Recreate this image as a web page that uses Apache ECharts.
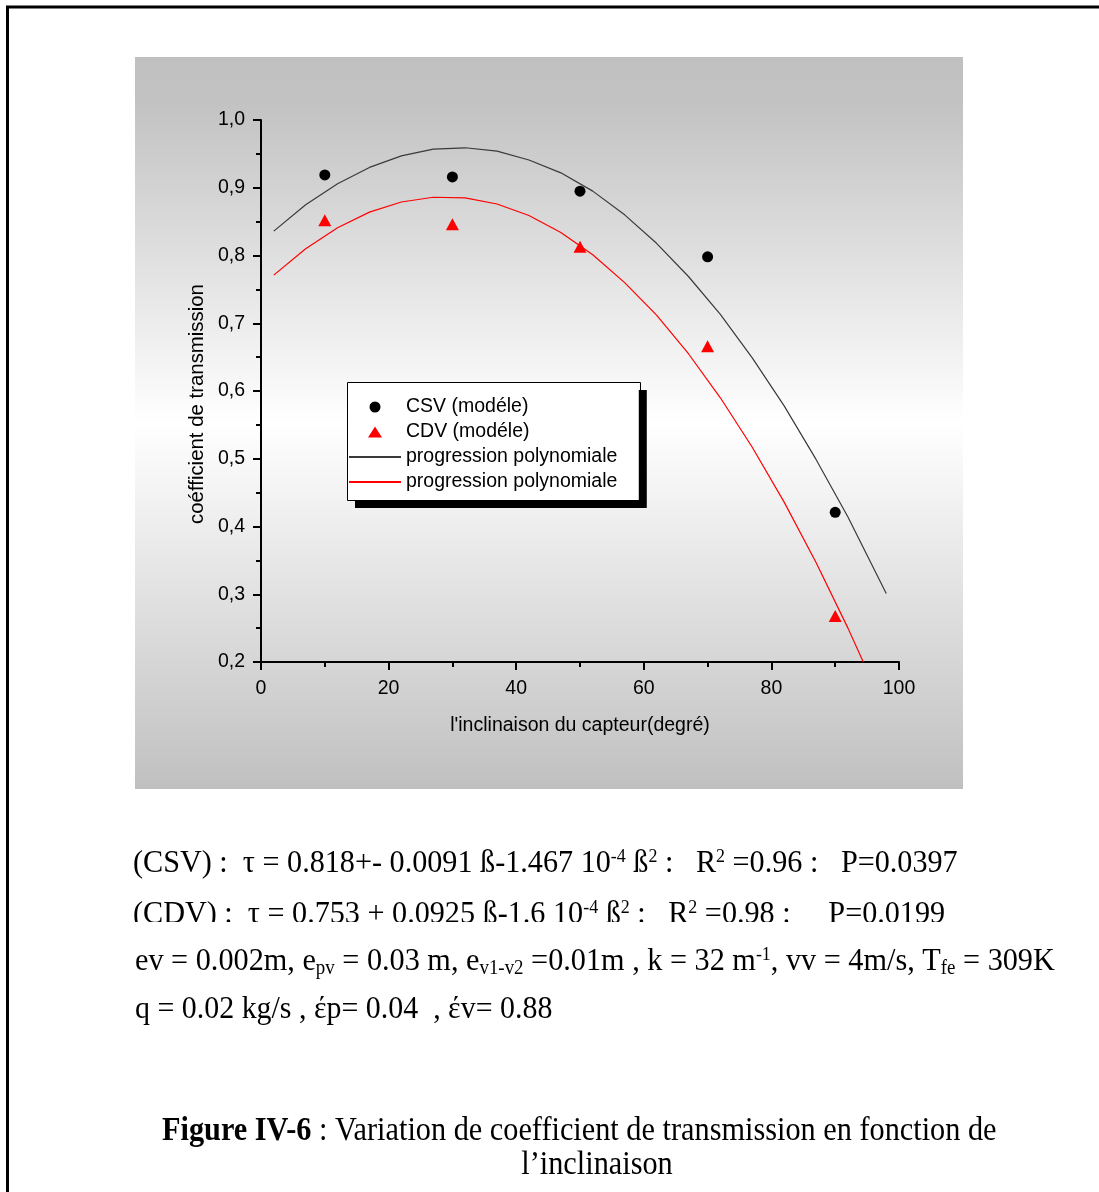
<!DOCTYPE html>
<html><head><meta charset="utf-8">
<script src="https://cdn.jsdelivr.net/npm/echarts@6/dist/echarts.min.js"></script>
<style>html,body{margin:0;padding:0;background:#fff}#c{width:1099px;height:1192px}</style>
</head><body><div id="c"></div>
<script>
// ---- data ----
const angles = [10, 30, 50, 70, 90];
const csvValues = [0.919, 0.916, 0.895, 0.798, 0.421];
const cdvValues = [0.852, 0.846, 0.813, 0.666, 0.268];
const csvFitX = [2, 7, 12, 17, 22, 27, 32, 37, 42, 47, 52, 57, 62, 67, 72, 77, 82, 87, 92, 98];
const csvFitY = [0.836, 0.875, 0.906, 0.930, 0.947, 0.957, 0.959, 0.954, 0.941, 0.922, 0.895, 0.860, 0.818, 0.769, 0.713, 0.649, 0.578, 0.499, 0.414, 0.301];
const cdvFitX = [2, 7, 12, 17, 22, 27, 32, 37, 42, 47, 52, 57, 62, 67, 72, 77, 82, 87, 92, 94.4];
const cdvFitY = [0.771, 0.810, 0.841, 0.864, 0.879, 0.886, 0.885, 0.876, 0.859, 0.834, 0.801, 0.760, 0.712, 0.655, 0.590, 0.517, 0.436, 0.347, 0.250, 0.200];
const seriesNames = ['CSV (modéle)', 'CDV (modéle)', 'progression polynomiale', 'progression polynomiale '];
const xTitle = "l'inclinaison du capteur(degré)";
const yTitle = 'coéfficient de transmission';
const xRange = [0, 100, 20];
const yRange = [0.2, 1.0, 0.1];

const sans = "'Liberation Sans', Arial, sans-serif";
const serif = "'Liberation Serif', 'Times New Roman', serif";
const pairs = (xs, ys) => xs.map((x, i) => [x, ys[i]]);

const chart = echarts.init(document.getElementById('c'), null, {renderer: 'canvas'});

function rich(base) {
  return {
    b: {fontSize: base, fontFamily: serif, verticalAlign: 'top', color: '#000'},
    sup: {fontSize: Math.round(base * 0.6), fontFamily: serif, verticalAlign: 'top', color: '#000'},
    sub: {fontSize: Math.round(base * 0.63), fontFamily: serif, verticalAlign: 'top', padding: [Math.round(base * 0.4), 0, 0, 0], color: '#000'},
    bold: {fontSize: base, fontFamily: serif, fontWeight: 'bold', verticalAlign: 'top', color: '#000'}
  };
}
function txt(x, y, text, size, sx, align) {
  return {
    type: 'text', x: x, y: y, z: 50, scaleX: sx, originX: 0, originY: 0,
    style: {text: text, x: 0, y: 0, fill: '#000', font: size + 'px ' + serif, verticalAlign: 'top', align: align || 'left', rich: rich(size)}
  };
}
// legend icons: a triangle inside a 52x11 box (tiny corner marks fix the box)
const triIcon = 'path://M0,0L0.01,0L0,0.01Z M52,11L51.99,11L52,10.99Z M19,11L26,0L33,11Z';

const option = {
  animation: false,
  backgroundColor: '#fff',
  grid: {left: 261, right: 200, top: 120, bottom: 530, containLabel: false},
  xAxis: {
    type: 'value', min: xRange[0], max: xRange[1], interval: xRange[2],
    name: xTitle, nameLocation: 'middle', nameGap: 54,
    nameTextStyle: {fontFamily: sans, fontSize: 19.5, color: '#000'},
    axisLine: {onZero: false, lineStyle: {color: '#000', width: 2}},
    axisTick: {inside: false, length: 8, lineStyle: {color: '#000', width: 2}},
    minorTick: {show: true, splitNumber: 2, length: 5, lineStyle: {color: '#000', width: 2}},
    axisLabel: {fontFamily: sans, fontSize: 19.5, color: '#000', margin: 17},
    splitLine: {show: false}
  },
  yAxis: {
    type: 'value', min: yRange[0], max: yRange[1], interval: yRange[2],
    name: yTitle, nameLocation: 'middle', nameGap: 53, nameRotate: 90,
    nameTextStyle: {fontFamily: sans, fontSize: 20.4, color: '#000', padding: [0, 26, 0, 0]},
    axisLine: {onZero: false, lineStyle: {color: '#000', width: 2}},
    axisTick: {inside: false, length: 8, lineStyle: {color: '#000', width: 2}},
    minorTick: {show: true, splitNumber: 2, length: 5, lineStyle: {color: '#000', width: 2}},
    axisLabel: {fontFamily: sans, fontSize: 19.5, color: '#000', margin: 16,
      formatter: v => v.toFixed(1).replace('.', ',')},
    splitLine: {show: false}
  },
  legend: {
    orient: 'vertical', left: 347, top: 382,
    data: [
      {name: seriesNames[0]},
      {name: seriesNames[1], icon: triIcon},
      {name: seriesNames[2], itemStyle: {opacity: 0}},
      {name: seriesNames[3], itemStyle: {opacity: 0}}
    ],
    selectedMode: false,
    itemWidth: 52, itemHeight: 11, itemGap: 5,
    padding: [15, 16, 8, 1],
    backgroundColor: '#fff', borderWidth: 0,
    shadowColor: '#000', shadowBlur: 0, shadowOffsetX: 8, shadowOffsetY: 8,
    textStyle: {fontFamily: sans, fontSize: 19.5, color: '#000'}
  },
  series: [
    {name: seriesNames[2], type: 'line', data: pairs(csvFitX, csvFitY), showSymbol: false, symbol: 'none',
      lineStyle: {color: '#3a3a3a', width: 1.2}, itemStyle: {color: '#3a3a3a'}, z: 3, clip: true},
    {name: seriesNames[3], type: 'line', data: pairs(cdvFitX, cdvFitY), showSymbol: false, symbol: 'none',
      lineStyle: {color: '#ff0000', width: 1.2}, itemStyle: {color: '#ff0000'}, z: 3, clip: true},
    {name: seriesNames[0], type: 'scatter', data: pairs(angles, csvValues), symbol: 'circle', symbolSize: 11,
      itemStyle: {color: '#000', opacity: 1}, z: 5},
    {name: seriesNames[1], type: 'scatter', data: pairs(angles, cdvValues), symbol: 'triangle', symbolSize: [13, 12],
      itemStyle: {color: '#ff0000', opacity: 1}, z: 5}
  ],
  graphic: {elements: [
    {type: 'rect', z: -100, shape: {x: 135, y: 57, width: 828, height: 732},
      style: {fill: new echarts.graphic.LinearGradient(0, 0, 0, 1, [
        {offset: 0, color: '#c0c0c0'}, {offset: 0.06, color: '#c2c2c2'}, {offset: 0.5, color: '#ffffff'}, {offset: 1, color: '#c0c0c0'}])}},
    {type: 'rect', z: 60, shape: {x: 347.5, y: 382.5, width: 293, height: 118}, style: {fill: 'none', stroke: '#000', lineWidth: 1}},
    {type: 'line', z: 60, shape: {x1: 6, y1: 7, x2: 1099, y2: 7}, style: {stroke: '#000', lineWidth: 3}},
    {type: 'line', z: 60, shape: {x1: 7.5, y1: 6, x2: 7.5, y2: 1192}, style: {stroke: '#000', lineWidth: 3}},
    txt(133, 848, '{b|(CSV) :  τ = 0.818+- 0.0091 ß-1.467 10}{sup|-4}{b| ß}{sup|2}{b| :   R}{sup|2}{b| =0.96 :   P=0.0397}', 32, 0.943),
    txt(133, 899, '{b|(CDV) :  τ = 0.753 + 0.0925 ß-1.6 10}{sup|-4}{b| ß}{sup|2}{b| :   R}{sup|2}{b| =0.98 :     P=0.0199}', 32, 0.943),
    {type: 'rect', z: 55, shape: {x: 125, y: 922, width: 880, height: 18}, style: {fill: '#fff'}},
    txt(135, 946, '{b|ev = 0.002m, e}{sub|pv}{b| = 0.03 m, e}{sub|v1-v2}{b| =0.01m , k = 32 m}{sup|-1}{b|, vv = 4m/s, T}{sub|fe}{b| = 309K}', 32, 0.945),
    txt(135, 994, '{b|q = 0.02 kg/s , έp= 0.04  , έv= 0.88}', 32, 0.935),
    txt(162, 1115, '{bold|Figure IV-6}{b| : Variation de coefficient de transmission en fonction de}', 33, 0.918),
    txt(597, 1149, '{b|l’inclinaison}', 33, 0.918, 'center')
  ]}
};
chart.setOption(option);
</script>
</body></html>
